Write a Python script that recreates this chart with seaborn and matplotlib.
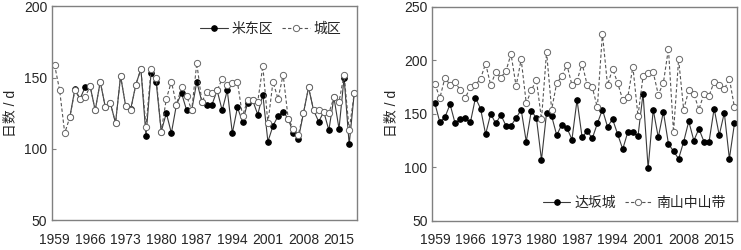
import numpy as np
import pandas as pd
import matplotlib
matplotlib.use('Agg')
import matplotlib.pyplot as plt
import seaborn as sns

# left panel
years_city = list(range(1959, 2019))
city = [159, 141, 111, 122, 141, 135, 136, 144, 127, 147, 129, 132, 118, 151, 130, 127, 145, 156, 115, 156,
        150, 112, 135, 147, 131, 143, 137, 127, 160, 133, 140, 139, 141, 149, 145, 146, 147, 123, 134, 134,
        133, 158, 118, 147, 135, 152, 121, 114, 110, 125, 143, 127, 127, 126, 125, 136, 133, 152, 113, 139]
years_midong = list(range(1962, 2019))
midong = [122, 142, 135, 143, 144, 127, 147, 129, 132, 118, 151, 130, 128, 145, 156, 109,
          153, 147, 112, 125, 111, 131, 139, 127, 127, 147, 133, 131, 131, 141, 127, 141, 111, 129, 119, 132,
          134, 124, 138, 105, 116, 123, 126, 121, 111, 107, 125, 143, 127, 119, 126, 113, 136, 114, 150, 103, 139]

# right panel
years_r = list(range(1959, 2019))
nanshan = [178, 165, 184, 177, 180, 172, 165, 175, 177, 183, 197, 177, 189, 184, 190, 206, 176, 201, 160, 172,
           182, 145, 208, 154, 179, 185, 196, 177, 181, 197, 177, 175, 156, 225, 177, 192, 179, 163, 166, 194,
           148, 185, 188, 189, 168, 179, 211, 133, 201, 154, 172, 169, 154, 169, 167, 180, 177, 173, 183, 156]
dabancheng = [160, 142, 147, 159, 141, 145, 146, 142, 165, 155, 131, 150, 141, 149, 139, 139, 146, 154, 124, 153,
              146, 107, 151, 148, 130, 140, 137, 126, 163, 128, 134, 127, 141, 154, 138, 145, 131, 117, 133, 133,
              129, 169, 99, 154, 128, 152, 122, 115, 108, 124, 143, 125, 136, 124, 124, 155, 130, 151, 108, 141]

tick_years = [1959, 1966, 1973, 1980, 1987, 1994, 2001, 2008, 2015]

sns.set_style('white')
plt.rcParams['font.family'] = ['Liberation Sans', 'Noto Sans CJK SC']
plt.rcParams['font.size'] = 10

fig = plt.figure(figsize=(7.41, 2.5), dpi=100)
ax1 = fig.add_axes([0.0702, 0.12, 0.4113, 0.855])
ax2 = fig.add_axes([0.5834, 0.117, 0.4112, 0.855])

solid = dict(color='#3a3a3a', marker='o', markersize=4, markerfacecolor='black',
             markeredgecolor='black', linewidth=0.8, linestyle='-')
dashed = dict(color='#555555', marker='o', markersize=4.5, markerfacecolor='white',
              markeredgecolor='#666666', markeredgewidth=0.7, linewidth=0.8, linestyle=(0, (3, 2)))

sns.lineplot(x=years_midong, y=midong, ax=ax1, label='米东区', **solid)
sns.lineplot(x=years_city, y=city, ax=ax1, label='城区', **dashed)
sns.lineplot(x=years_r, y=dabancheng, ax=ax2, label='达坂城', **solid)
sns.lineplot(x=years_r, y=nanshan, ax=ax2, label='南山中山带', **dashed)

for ax, ylim in [(ax1, (50, 200)), (ax2, (50, 250))]:
    ax.set_xlim(1958.5, 2018.5)
    ax.set_ylim(*ylim)
    ax.set_yticks(np.arange(ylim[0], ylim[1] + 1, 50))
    ax.set_xticks([y - 0.5 for y in tick_years[1:]])
    ax.set_xticklabels([])
    ax.set_xticks(tick_years, minor=True)
    ax.set_xticklabels([str(y) for y in tick_years], minor=True)
    ax.tick_params(axis='x', which='major', direction='in', length=3, color='#808080', width=0.8)
    ax.tick_params(axis='x', which='minor', length=0, pad=9, labelsize=10)
    ax.tick_params(axis='y', direction='in', length=3, color='#808080', width=0.8, labelsize=10, left=True)
    for s in ax.spines.values():
        s.set_visible(True)
        s.set_color('#808080')
        s.set_linewidth(1.0)
    ax.set_xlabel('')
    ax.set_ylabel('日数 / d', fontsize=10)

ax1.legend(loc='upper right', ncol=2, frameon=False, handlelength=2, columnspacing=0.6,
           handletextpad=0.3, borderaxespad=0.7, fontsize=10)
ax2.legend(loc='lower right', ncol=2, frameon=False, handlelength=2, columnspacing=0.6,
           handletextpad=0.3, borderaxespad=0.4, fontsize=10)

fig.savefig('out.png', dpi=100)
